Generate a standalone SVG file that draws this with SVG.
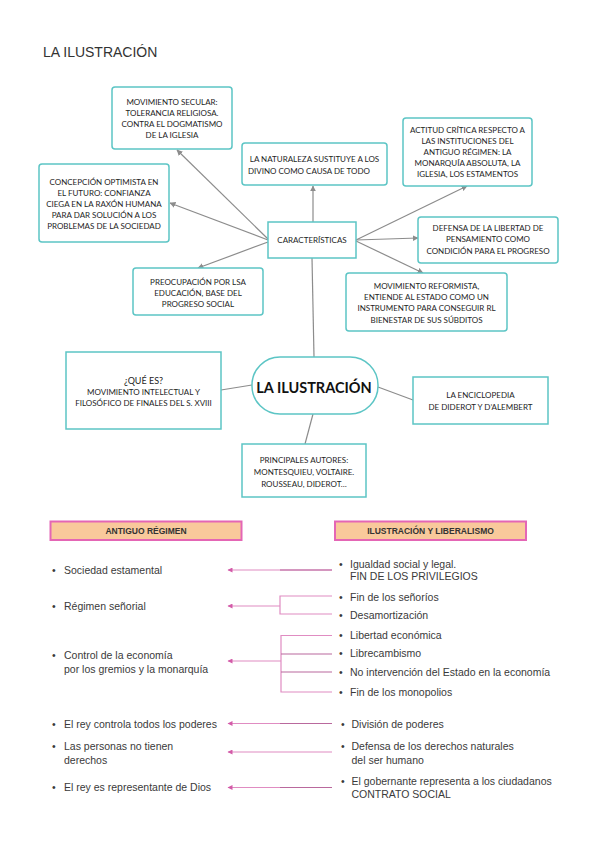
<svg xmlns="http://www.w3.org/2000/svg" width="600" height="848" viewBox="0 0 600 848">
<defs>
<style>
.bx{fill:#fff;stroke:#5cc5c5;stroke-width:1.5}
.t{font-family:Lato,"Open Sans",sans-serif;font-size:8px;fill:#1e1e1e;text-anchor:middle}
.c{stroke:#8c8c8c;stroke-width:1.2;fill:none}
.p{stroke:#e08cc2;stroke-width:1.2;fill:none}
.pd{stroke:#b9699d;stroke-width:1.2;fill:none}
.hd{fill:#f9c99b;stroke:#e466b5;stroke-width:2}
.ht{font-family:"Liberation Sans",Arial,sans-serif;font-size:8.5px;font-weight:bold;fill:#333;text-anchor:middle}
.l{font-family:"Liberation Sans",Arial,sans-serif;font-size:10.5px;fill:#3a3a3a}
</style>
<marker id="ga" viewBox="0 0 10 10" refX="9" refY="5" markerWidth="6" markerHeight="6" orient="auto" markerUnits="userSpaceOnUse">
<path d="M0,0 L10,5 L0,10 z" fill="#8c8c8c"/>
</marker>
<marker id="pa" viewBox="0 0 10 10" refX="9" refY="5" markerWidth="6" markerHeight="5" orient="auto" markerUnits="userSpaceOnUse">
<path d="M0,0 L10,5 L0,10 z" fill="#d35aa8"/>
</marker>
</defs>

<text x="43" y="57" style="font-family:'Liberation Sans',Arial,sans-serif;font-size:14px;fill:#333">LA ILUSTRACIÓN</text>

<g id="connectors">
<line class="c" x1="268" y1="239" x2="177" y2="150" marker-end="url(#ga)"/>
<line class="c" x1="268" y1="240" x2="170" y2="203" marker-end="url(#ga)"/>
<line class="c" x1="268" y1="242" x2="198" y2="268" marker-end="url(#ga)"/>
<line class="c" x1="313" y1="222" x2="313" y2="186" marker-end="url(#ga)"/>
<line class="c" x1="356" y1="240" x2="467" y2="186" marker-end="url(#ga)"/>
<line class="c" x1="356" y1="240" x2="418" y2="238" marker-end="url(#ga)"/>
<line class="c" x1="356" y1="241" x2="423" y2="273" marker-end="url(#ga)"/>
<line class="c" x1="312" y1="258" x2="314" y2="357"/>
<line class="c" x1="252" y1="385" x2="221" y2="390"/>
<line class="c" x1="378" y1="387" x2="413" y2="400"/>
<line class="c" x1="313" y1="414" x2="305" y2="444"/>

<line class="p" x1="332" y1="570" x2="228" y2="570" marker-end="url(#pa)"/>
<line class="pd" x1="332" y1="570" x2="280" y2="570"/>
<path class="p" d="M332,596 H280 V614 H332 M280,606 H228" marker-end="url(#pa)"/>
<path class="p" d="M332,635.5 H281 V692 H332 M281,661 H228" marker-end="url(#pa)"/>
<path class="pd" d="M332,654 H281 M332,672 H281"/>
<line class="p" x1="332" y1="723.5" x2="228" y2="723.5" marker-end="url(#pa)"/>
<line class="pd" x1="332" y1="723.5" x2="280" y2="723.5"/>
<line class="p" x1="332" y1="752" x2="228" y2="752" marker-end="url(#pa)"/>
<line class="p" x1="332" y1="787.5" x2="228" y2="787.5" marker-end="url(#pa)"/>
<line class="pd" x1="332" y1="787.5" x2="280" y2="787.5"/>
</g>

<g id="n-secular">
<rect class="bx" x="112" y="87" width="120" height="62" rx="3"/>
<text class="t" x="172" y="104.5">MOVIMIENTO SECULAR:</text>
<text class="t" x="172" y="115.5">TOLERANCIA RELIGIOSA.</text>
<text class="t" x="172" y="126.5">CONTRA EL DOGMATISMO</text>
<text class="t" x="172" y="137.5">DE LA IGLESIA</text>
</g>

<g id="n-concepcion">
<rect class="bx" x="39" y="164" width="130" height="78" rx="3"/>
<text class="t" x="104" y="185">CONCEPCIÓN OPTIMISTA EN</text>
<text class="t" x="104" y="196">EL FUTURO: CONFIANZA</text>
<text class="t" x="104" y="207">CIEGA EN LA RAXÓN HUMANA</text>
<text class="t" x="104" y="218">PARA DAR SOLUCIÓN A LOS</text>
<text class="t" x="104" y="229">PROBLEMAS DE LA SOCIEDAD</text>
</g>

<g id="n-naturaleza">
<rect class="bx" x="242" y="143" width="145" height="42" rx="3"/>
<text class="t" x="314.5" y="162">LA NATURALEZA SUSTITUYE A LOS</text>
<text class="t" x="248" y="173.5" style="text-anchor:start">DIVINO COMO CAUSA DE TODO</text>
</g>

<g id="n-actitud">
<rect class="bx" x="403" y="118" width="129" height="68" rx="3"/>
<text class="t" x="467.5" y="133">ACTITUD CRÍTICA RESPECTO A</text>
<text class="t" x="467.5" y="144">LAS INSTITUCIONES DEL</text>
<text class="t" x="467.5" y="155">ANTIGUO RÉGIMEN: LA</text>
<text class="t" x="467.5" y="166">MONARQUÍA ABSOLUTA, LA</text>
<text class="t" x="467.5" y="177">IGLESIA, LOS ESTAMENTOS</text>
</g>

<g id="n-caracteristicas">
<rect class="bx" x="268" y="222" width="88" height="36"/>
<text class="t" x="312" y="243">CARACTERÍSTICAS</text>
</g>

<g id="n-defensa">
<rect class="bx" x="418" y="217" width="140" height="46" rx="3"/>
<text class="t" x="488" y="231">DEFENSA DE LA LIBERTAD DE</text>
<text class="t" x="488" y="242">PENSAMIENTO COMO</text>
<text class="t" x="488" y="253.5">CONDICIÓN PARA EL PROGRESO</text>
</g>

<g id="n-reformista">
<rect class="bx" x="346" y="273" width="161" height="58" rx="3"/>
<text class="t" x="426.5" y="289">MOVIMIENTO REFORMISTA,</text>
<text class="t" x="426.5" y="300">ENTIENDE AL ESTADO COMO UN</text>
<text class="t" x="426.5" y="311">INSTRUMENTO PARA CONSEGUIR RL</text>
<text class="t" x="426.5" y="322.5">BIENESTAR DE SUS SÚBDITOS</text>
</g>

<g id="n-preocupacion">
<rect class="bx" x="133" y="268" width="130" height="47" rx="3"/>
<text class="t" x="198" y="285">PREOCUPACIÓN POR LSA</text>
<text class="t" x="198" y="296">EDUCACIÓN, BASE DEL</text>
<text class="t" x="198" y="307">PROGRESO SOCIAL</text>
</g>

<g id="n-quees">
<rect class="bx" x="66" y="352" width="155" height="77"/>
<text class="t" x="143.5" y="384" style="font-size:9px">¿QUÉ ES?</text>
<text class="t" x="143.5" y="395">MOVIMIENTO INTELECTUAL Y</text>
<text class="t" x="143.5" y="406">FILOSÓFICO DE FINALES DEL S. XVIII</text>
</g>

<g id="n-ilustracion">
<rect class="bx" x="252" y="357" width="126" height="57" rx="28"/>
<text class="t" x="314" y="392.5" style="font-size:14.5px;font-weight:bold;fill:#111">LA ILUSTRACIÓN</text>
</g>

<g id="n-enciclopedia">
<rect class="bx" x="413" y="377" width="135" height="47"/>
<text class="t" x="480.5" y="398">LA ENCICLOPEDIA</text>
<text class="t" x="480.5" y="410">DE DIDEROT Y D’ALEMBERT</text>
</g>

<g id="n-autores">
<rect class="bx" x="242" y="444" width="124" height="53"/>
<text class="t" x="304" y="463">PRINCIPALES AUTORES:</text>
<text class="t" x="304" y="475">MONTESQUIEU, VOLTAIRE.</text>
<text class="t" x="304" y="487">ROUSSEAU, DIDEROT…</text>
</g>

<g id="h-antiguo">
<rect class="hd" x="50.5" y="521.5" width="191" height="18.5"/>
<text class="ht" x="146" y="533.5">ANTIGUO RÉGIMEN</text>
</g>
<g id="h-ilustracion">
<rect class="hd" x="335" y="521.5" width="191" height="18.5"/>
<text class="ht" x="430.5" y="533.5">ILUSTRACIÓN Y LIBERALISMO</text>
</g>

<g id="left-list" class="l">
<text x="52" y="573.5">•</text><text x="64" y="573.5">Sociedad estamental</text>
<text x="52" y="610">•</text><text x="64" y="610">Régimen señorial</text>
<text x="52" y="659">•</text><text x="64" y="659">Control de la economía</text>
<text x="64" y="672.5">por los gremios y la monarquía</text>
<text x="52" y="727.5">•</text><text x="64" y="727.5">El rey controla todos los poderes</text>
<text x="52" y="750">•</text><text x="64" y="750">Las personas no tienen</text>
<text x="64" y="763.5">derechos</text>
<text x="52" y="791">•</text><text x="64" y="791">El rey es representante de Dios</text>
</g>

<g id="right-list" class="l">
<text x="339" y="567.5">•</text><text x="350" y="567.5">Igualdad social y legal.</text>
<text x="350" y="579.5">FIN DE LOS PRIVILEGIOS</text>
<text x="339" y="600.5">•</text><text x="350" y="600.5">Fin de los señoríos</text>
<text x="339" y="619">•</text><text x="350" y="619">Desamortización</text>
<text x="339" y="639">•</text><text x="350" y="639">Libertad económica</text>
<text x="339" y="657">•</text><text x="350" y="657">Librecambismo</text>
<text x="339" y="675.5">•</text><text x="350" y="675.5">No intervención del Estado en la economía</text>
<text x="339" y="695.5">•</text><text x="350" y="695.5">Fin de los monopolios</text>
<text x="341" y="727.5">•</text><text x="351.5" y="727.5">División de poderes</text>
<text x="341" y="750">•</text><text x="351.5" y="750">Defensa de los derechos naturales</text>
<text x="351.5" y="763.5">del ser humano</text>
<text x="341" y="784.5">•</text><text x="351.5" y="784.5">El gobernante representa a los ciudadanos</text>
<text x="351.5" y="797.5">CONTRATO SOCIAL</text>
</g>
</svg>
